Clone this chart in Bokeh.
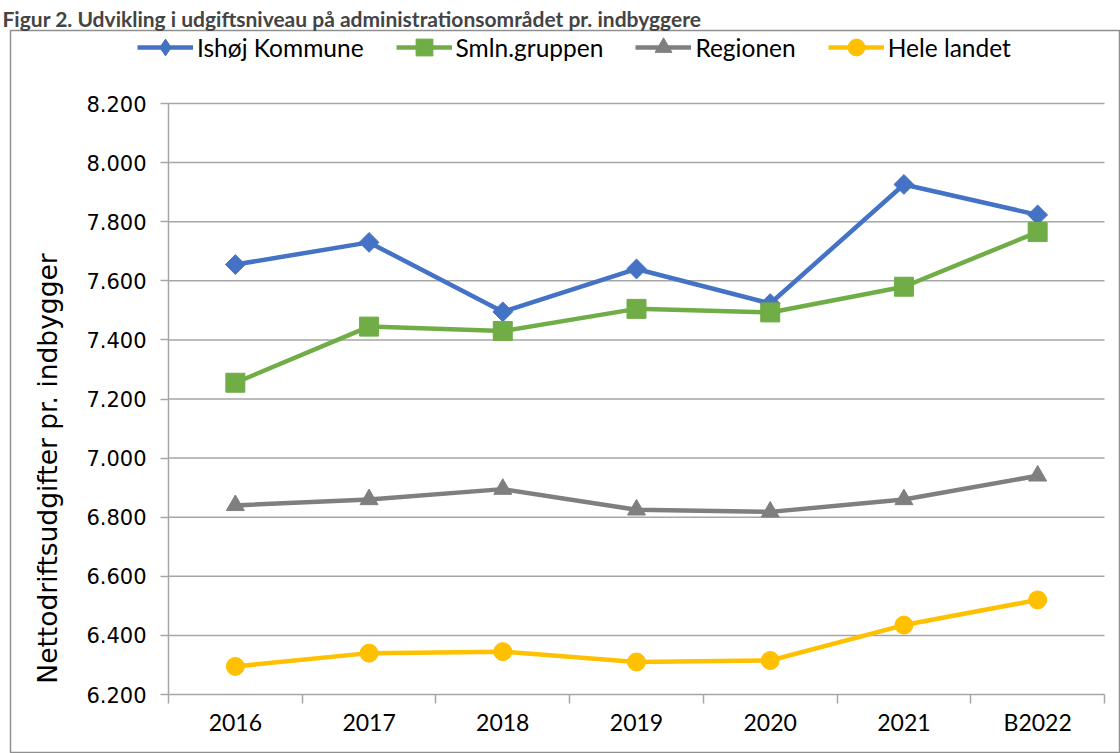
from bokeh.plotting import figure
from bokeh.models import FixedTicker, Legend, LegendItem, Range1d, LinearAxis
from bokeh.embed import file_html
from bokeh.resources import INLINE
import numpy as np

years = ["2016", "2017", "2018", "2019", "2020", "2021", "B2022"]
ishoj = [7655, 7730, 7495, 7640, 7523, 7926, 7823]
smln = [7255, 7445, 7430, 7505, 7493, 7580, 7765]
regionen = [6840, 6860, 6895, 6825, 6818, 6860, 6940]
hele = [6295, 6340, 6345, 6310, 6315, 6435, 6520]
y_ticks = list(range(6200, 8201, 200))

title_text = "Figur 2. Udvikling i udgiftsniveau på administrationsområdet pr. indbyggere"
ylabel = "Nettodriftsudgifter pr. indbygger"

# layout (pixels): chart area frame and plot area inside it
W, H = 1120, 753
FL, FR, FT, FB = 10, W, 30, H          # chart-area border (the Bokeh frame)
PL, PR, PT, PB = 168, 1104, 103, 694   # plot area
n = len(years)
ymin, ymax = y_ticks[0], y_ticks[-1]
xs = (PR - PL) / n
ys = (PB - PT) / (ymax - ymin)
x_range = Range1d(-(PL - FL) / xs, n + (FR - PR) / xs)
y_range = Range1d(ymin - (FB - PB) / ys, ymax + (PT - FT) / ys)

x = np.arange(n) + 0.5

p = figure(width=W, height=H, output_backend="svg", toolbar_location=None,
           x_range=x_range, y_range=y_range,
           min_border_left=FL, min_border_right=0, min_border_top=FT, min_border_bottom=0)
p.outline_line_color = "#8f8f8f"
p.outline_line_width = 1.5
p.background_fill_color = "white"
p.border_fill_color = "white"

p.title.text = title_text
p.title.text_font = "Lato"
p.title.text_font_style = "bold"
p.title.text_font_size = "21px"
p.title.align = "left"
p.title.offset = -8
p.title.standoff = 0

# grid lines over the plot area only
p.xgrid.grid_line_color = None
p.ygrid.grid_line_color = None
p.segment(x0=0, x1=n, y0=y_ticks[1:], y1=y_ticks[1:], line_color="#a6a6a6", line_width=1.5)

# x axis
p.xaxis.fixed_location = ymin
p.xaxis.bounds = (0, n)
p.xaxis.ticker = FixedTicker(ticks=list(x), minor_ticks=list(range(n + 1)))
p.xaxis.major_label_overrides = {float(v): lab for v, lab in zip(x, years)}
p.xaxis.major_tick_out = 0
p.xaxis.major_tick_in = 0
p.xaxis.minor_tick_out = 9
p.xaxis.minor_tick_in = 0
p.xaxis.minor_tick_line_color = "#a6a6a6"
p.xaxis.minor_tick_line_width = 1.5
p.xaxis.axis_line_color = "#a6a6a6"
p.xaxis.axis_line_width = 1.5
p.xaxis.major_label_text_font = "Lato"
p.xaxis.major_label_text_font_size = "23px"
p.xaxis.major_label_text_color = "black"
p.xaxis.major_label_standoff = 4

# y axis
p.yaxis.fixed_location = 0
p.yaxis.bounds = (ymin, ymax)
p.yaxis.ticker = FixedTicker(ticks=y_ticks)
p.yaxis.major_label_overrides = {t: f"{t:,}".replace(",", ".") for t in y_ticks}
p.yaxis.major_tick_out = 8
p.yaxis.major_tick_in = 0
p.yaxis.minor_tick_out = 0
p.yaxis.minor_tick_in = 0
p.yaxis.major_tick_line_color = "#a6a6a6"
p.yaxis.major_tick_line_width = 1.5
p.yaxis.axis_line_color = "#a6a6a6"
p.yaxis.axis_line_width = 1.5
p.yaxis.major_label_text_font = "DejaVu Sans"
p.yaxis.major_label_text_font_size = "21px"
p.yaxis.major_label_text_color = "black"
p.yaxis.major_label_standoff = 14

# y axis title (placed lower than the axis centre, as in the original)
label_center_px = 468
c = ymax - (label_center_px - PT) / ys
lab_axis = LinearAxis(fixed_location=0, bounds=(c - 100, c + 100), ticker=FixedTicker(ticks=[]),
                      axis_line_color=None, major_tick_out=0, major_tick_in=0,
                      minor_tick_out=0, minor_tick_in=0, major_label_standoff=0,
                      axis_label=ylabel, axis_label_standoff=106,
                      axis_label_text_font="DejaVu Sans", axis_label_text_font_size="26.5px",
                      axis_label_text_font_style="normal", axis_label_text_color="black")
p.add_layout(lab_axis, "left")

series = [
    ("Ishøj Kommune", ishoj, "#4472C4", "square", 14, np.pi / 4, "diamond"),
    ("Smln.gruppen", smln, "#70AD47", "square", 19, 0, "square"),
    ("Regionen", regionen, "#7F7F7F", "triangle", 18, 0, "triangle"),
    ("Hele landet", hele, "#FFC000", "circle", 18, 0, "circle"),
]
items = []
for name, vals, col, mk, sz, ang, legend_mk in series:
    r1 = p.line(x, vals, line_color=col, line_width=4.5)
    r2 = p.scatter(x, vals, marker=mk, size=sz, angle=ang, fill_color=col, line_color=col)
    # marker shape as shown in the legend (a single undrawable NaN point)
    r3 = p.scatter(x=[np.nan], y=[np.nan], marker=legend_mk, size=sz, fill_color=col, line_color=col)
    items.append(LegendItem(label=name, renderers=[r1, r3]))

legend = Legend(items=items, orientation="horizontal", location=(127, 685),
                padding=0, margin=0, spacing=32, glyph_width=56, glyph_height=42,
                label_standoff=4, label_text_font="Lato", label_text_font_size="24.5px",
                label_text_color="black",
                border_line_color=None, background_fill_alpha=0)
p.add_layout(legend, "center")

open("out.html", "w").write(file_html(p, INLINE))
